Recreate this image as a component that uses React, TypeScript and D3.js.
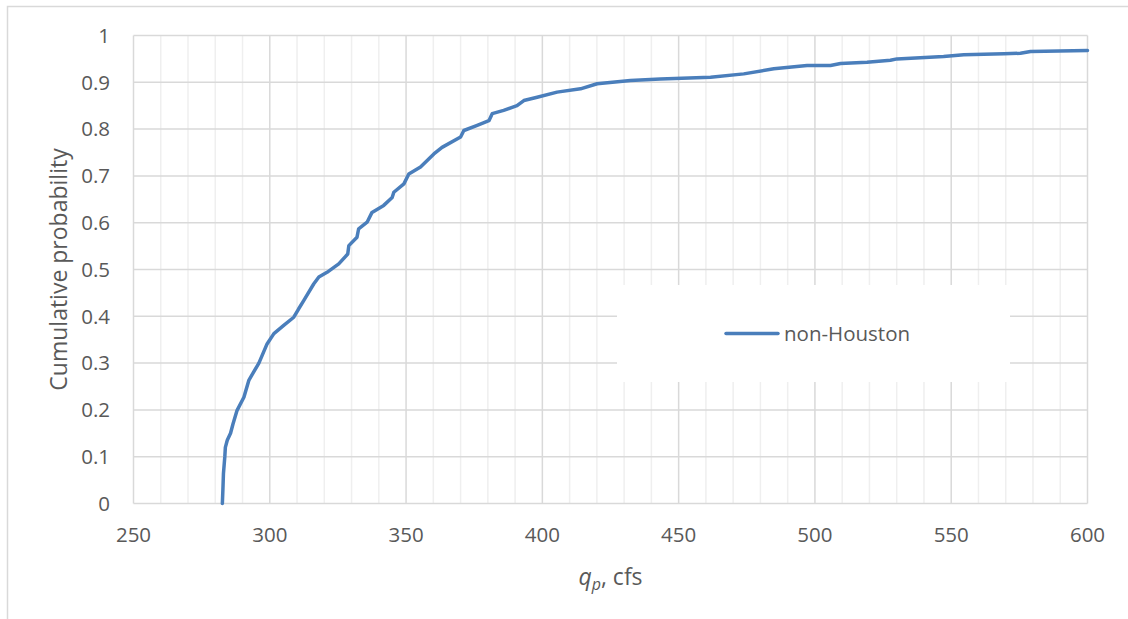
import React from "react";
import * as d3 from "d3";

const qp: number[] = [
  282.6, 282.8, 283.0, 283.5, 283.7, 284.4, 285.6, 286.5, 288.0, 290.5, 292.3, 294.0, 296.0,
  299.0, 301.5, 305.0, 308.8, 310.5, 312.5, 316.1, 318.0, 321.0, 325.3, 328.6, 329.0, 332.0,
  332.6, 335.7, 337.5, 341.8, 344.9, 345.5, 349.2, 351.0, 355.3, 360.2, 363.2, 370.0, 371.2,
  376.1, 380.4, 381.6, 385.8, 390.7, 393.2, 398.1, 405.4, 414.0, 420.1, 432.3, 443.3, 461.7,
  473.9, 484.9, 497.1, 505.7, 509.4, 519.1, 527.7, 530.1, 547.2, 554.6, 569.3, 575.4, 579.1, 600.0,
];
const prob: number[] = [
  0, 0.03, 0.064, 0.1, 0.12, 0.135, 0.15, 0.17, 0.199, 0.227, 0.263, 0.28, 0.3,
  0.341, 0.363, 0.38, 0.398, 0.415, 0.434, 0.469, 0.484, 0.494, 0.512, 0.533, 0.551, 0.569,
  0.587, 0.601, 0.622, 0.637, 0.654, 0.665, 0.683, 0.704, 0.719, 0.747, 0.761, 0.783, 0.797,
  0.808, 0.818, 0.833, 0.84, 0.85, 0.861, 0.868, 0.879, 0.886, 0.897, 0.904, 0.907, 0.911,
  0.918, 0.929, 0.936, 0.936, 0.94, 0.943, 0.947, 0.95, 0.955, 0.959, 0.961, 0.962, 0.966, 0.968,
];
const xTicks: number[] = [250, 300, 350, 400, 450, 500, 550, 600];
const yTicks: number[] = [0, 0.1, 0.2, 0.3, 0.4, 0.5, 0.6, 0.7, 0.8, 0.9, 1];
const seriesName = "non-Houston";

const W = 1128;
const H = 619;
const L = 133.5, R = 1087.5, T = 35.5, B = 503.5;
const FONT = "'Open Sans', sans-serif";
const TXT = "#595959";

export default function App() {
  const x = d3.scaleLinear().domain([250, 600]).range([L, R]);
  const y = d3.scaleLinear().domain([0, 1]).range([B, T]);
  const minor = d3.range(250, 601, 10).filter((v) => v % 50 !== 0);
  const pts = qp.map((q, i) => [q, prob[i]] as [number, number]);
  const line = d3
    .line<[number, number]>()
    .x((d) => x(d[0]))
    .y((d) => y(d[1]))
    .curve(d3.curveLinear);

  return (
    <svg
      width={W}
      height={H}
      style={{ position: "absolute", left: 0, top: 0, background: "#fff" }}
      fontFamily={FONT}
    >
      <rect x={0} y={0} width={W} height={H} fill="#fff" />
      <rect x={7.5} y={6.5} width={1125} height={630} fill="none" stroke="#d9d9d9" strokeWidth={1.5} />
      {minor.map((v) => (
        <line key={"mn" + v} x1={x(v)} x2={x(v)} y1={T} y2={B} stroke="#efefef" strokeWidth={1.5} />
      ))}
      {xTicks.map((v) => (
        <line key={"mj" + v} x1={x(v)} x2={x(v)} y1={T} y2={B} stroke="#d9d9d9" strokeWidth={1.5} />
      ))}
      {yTicks.map((v) => (
        <line key={"h" + v} x1={L} x2={R} y1={y(v)} y2={y(v)} stroke="#d9d9d9" strokeWidth={1.5} />
      ))}
      <path d={line(pts) || ""} fill="none" stroke="#4a7ebb" strokeWidth={3.5} strokeLinejoin="round" strokeLinecap="round" />
      {yTicks.map((v) => (
        <text key={"yl" + v} x={110} y={y(v)} dy="0.36em" textAnchor="end" fontSize={20.5} fill={TXT}>
          {d3.format("")(v)}
        </text>
      ))}
      {xTicks.map((v) => (
        <text key={"xl" + v} x={x(v)} y={535} dy="0.36em" textAnchor="middle" fontSize={20.5} fill={TXT}>
          {v}
        </text>
      ))}
      <text
        transform={`translate(59,${(T + B) / 2}) rotate(-90)`}
        textAnchor="middle"
        dy="0.36em"
        fontSize={23}
        fill={TXT}
      >
        Cumulative probability
      </text>
      <text x={(L + R) / 2} y={585} textAnchor="middle" fontSize={23} fill={TXT}>
        <tspan fontStyle="italic">q</tspan>
        <tspan fontStyle="italic" fontSize={16} dy={5}>p</tspan>
        <tspan dy={-5}>, cfs</tspan>
      </text>
      <rect x={617} y={285} width={393} height={97} fill="#fff" />
      <line x1={726} x2={778} y1={333.5} y2={333.5} stroke="#4a7ebb" strokeWidth={3.5} strokeLinecap="round" />
      <text x={784} y={333.5} dy="0.36em" fontSize={20.5} fill={TXT}>
        {seriesName}
      </text>
    </svg>
  );
}
